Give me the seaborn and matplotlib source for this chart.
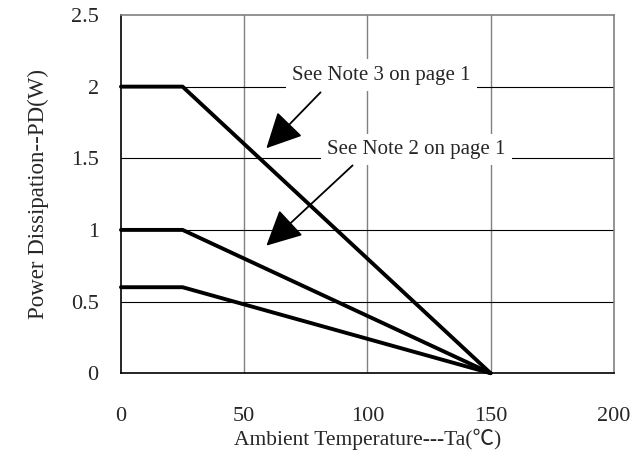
import pandas as pd
import seaborn as sns
import matplotlib.pyplot as plt

# Derating curves (breakpoints)
temp = [0, 25, 150]
pd_note3 = [2.0, 2.0, 0.0]
pd_note2 = [1.0, 1.0, 0.0]
pd_base = [0.6, 0.6, 0.0]

x_ticks = [0, 50, 100, 150, 200]
y_ticks = [0, 0.5, 1, 1.5, 2, 2.5]
y_tick_labels = ['0', '0.5', '1', '1.5', '2', '2.5']

df = pd.DataFrame({
    'Ta': temp * 3,
    'PD': pd_note3 + pd_note2 + pd_base,
    'curve': ['note3'] * 3 + ['note2'] * 3 + ['base'] * 3,
})

sns.set_style('white')
plt.rcParams['font.family'] = ['Liberation Serif', 'Noto Sans CJK TC']

fig, ax = plt.subplots(figsize=(6.4, 4.54), dpi=100)
fig.subplots_adjust(left=0.189, right=0.959, top=0.967, bottom=0.178)

sns.lineplot(data=df, x='Ta', y='PD', units='curve', estimator=None,
             color='black', lw=2.8, ax=ax, legend=False, clip_on=False)

ax.set_xlim(0, 200)
ax.set_ylim(0, 2.5)
ax.set_xticks(x_ticks)
ax.set_yticks(y_ticks)
ax.set_yticklabels(y_tick_labels)
ax.tick_params(axis='x', length=0, pad=24, labelsize=16)
ax.tick_params(axis='y', length=0, pad=16, labelsize=16)

# grid: vertical lines grey, horizontal black
for xv in x_ticks[1:-1]:
    ax.axvline(xv, color='#808080', lw=1.0, zorder=0)
for yv in y_ticks[1:-1]:
    ax.axhline(yv, color='black', lw=0.8, zorder=0)

for side in ['left', 'bottom']:
    ax.spines[side].set_color('black')
    ax.spines[side].set_linewidth(1.2)
for side in ['top', 'right']:
    ax.spines[side].set_color('#808080')
    ax.spines[side].set_linewidth(1.2)

ax.set_xlabel('Ambient Temperature---Ta(℃)', fontsize=15.5, labelpad=2)
ax.set_ylabel('Power Dissipation--PD(W)', fontsize=16.5, labelpad=16)

arrow = dict(arrowstyle='-|>,head_length=1.1,head_width=0.55', color='black',
             lw=1.3, mutation_scale=20, shrinkA=0, shrinkB=0)
box = dict(boxstyle='square,pad=0.3', fc='white', ec='none')

ax.text(105.7, 2.08, 'See Note 3 on page 1', fontsize=15, ha='center',
        va='center', bbox=box, zorder=3)
ax.annotate('', xy=(59, 1.57), xytext=(81, 1.96), arrowprops=arrow, zorder=4)

ax.text(120, 1.56, 'See Note 2 on page 1', fontsize=15, ha='center',
        va='center', bbox=box, zorder=3)
ax.annotate('', xy=(59, 0.89), xytext=(94, 1.45), arrowprops=arrow, zorder=4)

plt.savefig('out.png', dpi=100)
plt.close()
